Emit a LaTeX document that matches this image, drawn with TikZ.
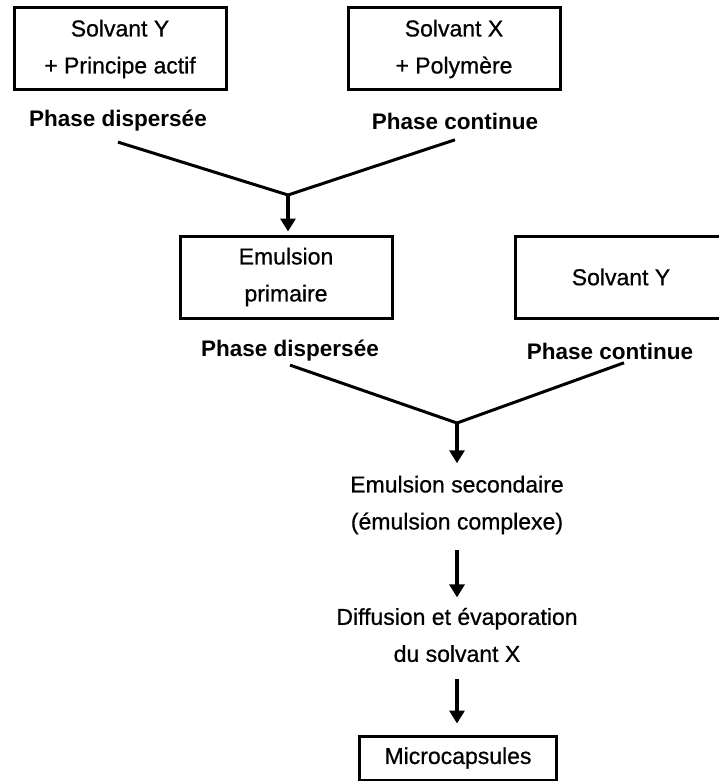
\documentclass[tikz,border=0pt]{standalone}
\usepackage{fontspec}
\setmainfont{Liberation Sans}
\newfontfamily\scanfont[FakeBold=0.7]{Liberation Sans}
\usetikzlibrary{arrows.meta}

\begin{document}
\begin{tikzpicture}[
      x=1pt, y=-1pt,
      phasebox/.style={
        draw,
        line width=3pt,
        align=center,
        minimum width=212pt,
        minimum height=82pt,
        inner sep=0pt,
        font=\scanfont\fontsize{23}{37}\selectfont
      },
      phase/.style={font=\bfseries\fontsize{22.5}{26}\selectfont},
      stage/.style={align=center, font=\scanfont\fontsize{23}{37}\selectfont},
      merge/.style={line width=3pt},
      flow/.style={-{Triangle[width=15pt,length=13pt]}, line width=3.4pt}
    ]
    \useasboundingbox (0,0) rectangle (718,781);

    % first emulsion
    \node[phasebox] (solvY) at (120,49) {Solvant Y\\+ Principe actif};
    \node[phasebox] (solvX) at (454,49) {Solvant X\\+ Polymère};
    \node[phase] (disp1) at (118,121) {Phase dispersée};
    \node[phase] (cont1) at (455,121) {Phase continue};
    \coordinate (j1) at (288,195);

    % second emulsion
    \node[phasebox] (primaire) at (286,277) {Emulsion\\primaire};
    \node[phasebox] (solvY2) at (621,277) {Solvant Y};
    \node[phase] (disp2) at (290,351) {Phase dispersée};
    \node[phase] (cont2) at (610,351) {Phase continue};
    \coordinate (j2) at (457,423);

    % process steps
    \node[stage] (secondaire) at (457,505) {Emulsion secondaire\\(émulsion complexe)};
    \node[stage] (diffusion) at (457,635) {Diffusion et évaporation\\du solvant X};
    \node[phasebox, minimum width=197pt, minimum height=44pt] (micro) at (458,758) {Microcapsules};

    \draw[merge] ([yshift=-7pt]disp1.south) -- (j1) -- ([yshift=-7pt]cont1.south);
    \draw[flow, shorten >=3pt] (j1) -- (j1 |- primaire.north);
    \draw[merge] (disp2.south) -- (j2) -- ([xshift=14pt]cont2.south);
    \draw[flow, shorten >=9pt] (j2) -- (j2 |- secondaire.north);
    \draw[flow, shorten <=12pt, shorten >=7pt] (secondaire) -- (diffusion);
    \draw[flow, shorten <=13pt, shorten >=11pt] (diffusion.south) -- (diffusion.south |- micro.north);
  \end{tikzpicture}
\end{document}
